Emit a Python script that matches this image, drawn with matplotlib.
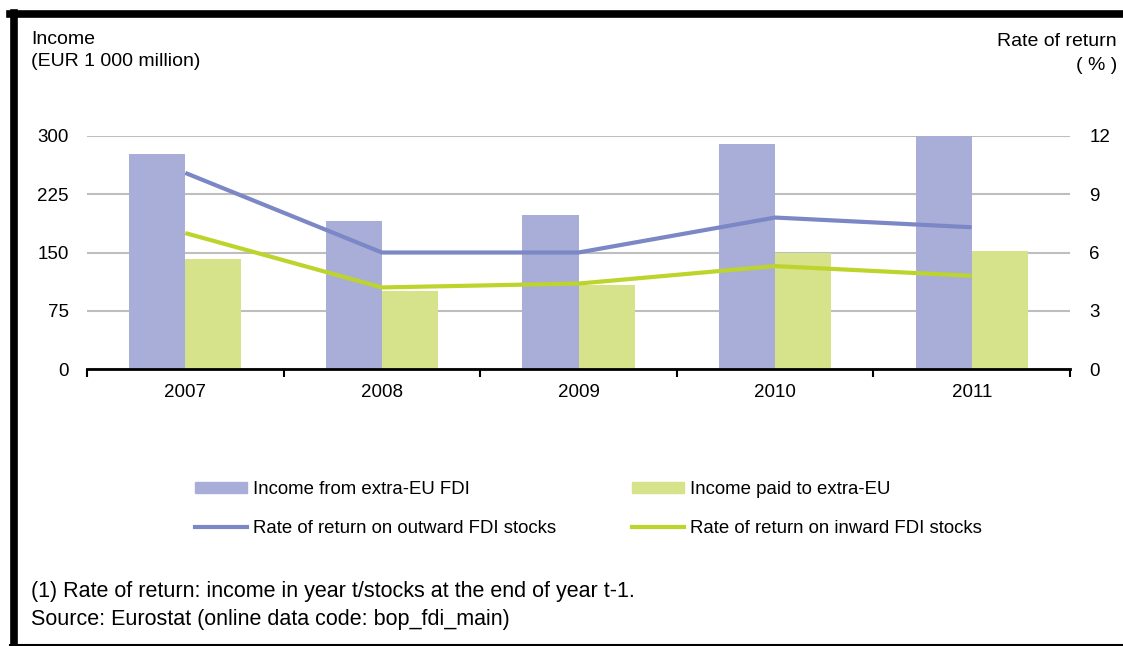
import numpy as np
import matplotlib.pyplot as plt
from matplotlib.patches import Patch
from matplotlib.lines import Line2D

# data
years = ['2007', '2008', '2009', '2010', '2011']
income_from = [277, 190, 198, 290, 300]     # EUR 1 000 million
income_paid = [141, 101, 108, 149, 152]
ror_outward = [10.1, 6.0, 6.0, 7.8, 7.3]    # %
ror_inward = [7.0, 4.2, 4.4, 5.3, 4.8]

left_ticks = [0, 75, 150, 225, 300]
right_ticks = [0, 3, 6, 9, 12]

c_from = '#A9AED8'
c_paid = '#D7E38A'
c_out = '#7C87C5'
c_in = '#BDD42C'

plt.rcParams['font.family'] = ['Liberation Sans', 'DejaVu Sans']

W, H = 1123, 646
fig = plt.figure(figsize=(W / 100, H / 100), dpi=100)


def fx(px):
    return px / W


def fy(py):
    return 1 - py / H


ax = fig.add_axes([fx(87), fy(369), fx(1070) - fx(87), fy(136) - fy(369)])
x = np.arange(len(years))
bw = 0.285
ax.bar(x - bw / 2, income_from, bw, color=c_from, zorder=2)
ax.bar(x + bw / 2, income_paid, bw, color=c_paid, zorder=2)
ax.set_xlim(-0.5, len(years) - 0.5)
ax.set_ylim(0, 300)
ax.set_yticks(left_ticks)
ax.set_yticklabels([str(t) for t in left_ticks])
ax.yaxis.grid(True, color='#BEBEBE', lw=1.5, zorder=0)
ax.set_axisbelow(True)
ax.set_xticks(x)
ax.set_xticklabels(years)
ax.set_xticks(np.arange(-0.5, len(years)), minor=True)
ax.tick_params(axis='x', which='major', length=0, pad=11, labelsize=13.5)
ax.tick_params(axis='x', which='minor', length=6, width=1.5, direction='out')
ax.tick_params(axis='y', length=0, pad=13, labelsize=13.5)
for s in ['top', 'right', 'left']:
    ax.spines[s].set_visible(False)
ax.spines['bottom'].set_linewidth(2)
ax.spines['bottom'].set_zorder(5)

ax2 = ax.twinx()
ax2.plot(x, ror_outward, color=c_out, lw=3, solid_capstyle='butt')
ax2.plot(x, ror_inward, color=c_in, lw=3, solid_capstyle='butt')
ax2.set_ylim(0, 12)
ax2.set_yticks(right_ticks)
ax2.tick_params(axis='y', length=0, pad=14, labelsize=13.5)
for s in ax2.spines.values():
    s.set_visible(False)

# axis titles
fig.text(fx(31), fy(39), 'Income', fontsize=14, va='center', ha='left')
fig.text(fx(31), fy(62), '(EUR 1 000 million)', fontsize=14, va='center', ha='left')
fig.text(fx(1117), fy(42), 'Rate of return', fontsize=14, va='center', ha='right')
fig.text(fx(1117), fy(66), '( % )', fontsize=14, va='center', ha='right')

# legend, two columns
col1 = [Patch(color=c_from), Line2D([], [], color=c_out, lw=3)]
col2 = [Patch(color=c_paid), Line2D([], [], color=c_in, lw=3)]
lab1 = ['Income from extra-EU FDI', 'Rate of return on outward FDI stocks']
lab2 = ['Income paid to extra-EU', 'Rate of return on inward FDI stocks']
for handles, labels, px in [(col1, lab1, 195), (col2, lab2, 632)]:
    leg = fig.legend(handles, labels, loc='center left',
                     bbox_to_anchor=(fx(px), fy(509)), frameon=False,
                     fontsize=13.4, handlelength=2.8, handleheight=0.55,
                     handletextpad=0.32, labelspacing=1.16,
                     borderpad=0, borderaxespad=0)

# footnotes
fig.text(fx(31), fy(592), '(1) Rate of return: income in year t/stocks at the end of year t-1.',
         fontsize=15.5, va='center', ha='left')
fig.text(fx(31), fy(620), 'Source: Eurostat (online data code: bop_fdi_main)',
         fontsize=15.5, va='center', ha='left')

# frame
fig.add_artist(Line2D([fx(14), fx(14)], [fy(13), fy(645)], color='black', lw=5.5))
fig.add_artist(Line2D([fx(10), 1], [fy(13.5), fy(13.5)], color='black', lw=5.5))
fig.add_artist(Line2D([fx(10), 1], [fy(644.5), fy(644.5)], color='black', lw=1.5))

fig.savefig('out.png', dpi=100)
